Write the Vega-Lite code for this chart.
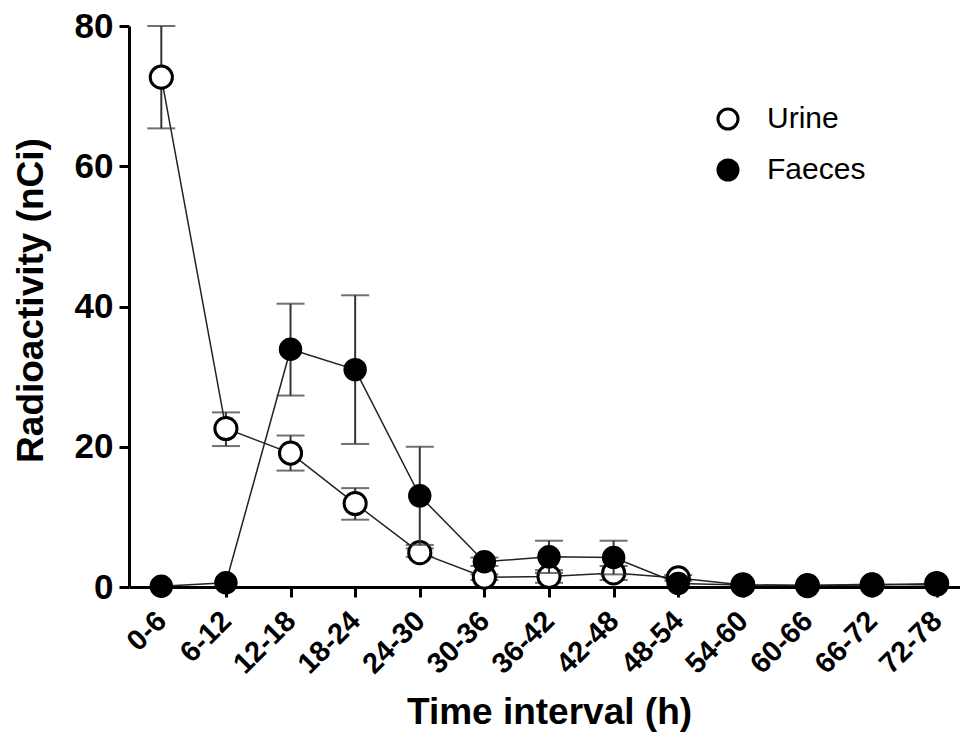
{
  "$schema": "https://vega.github.io/schema/vega-lite/v6.json",
  "autosize": {"type": "none"},
  "padding": {"left": 129, "top": 26, "right": 0, "bottom": 147},
  "width": 840,
  "height": 561,
  "background": "white",
  "config": {
    "view": {"stroke": null},
    "font": "Liberation Sans",
    "axis": {
      "grid": false,
      "domainColor": "black",
      "domainWidth": 3,
      "tickColor": "black",
      "tickWidth": 3,
      "tickSize": 10,
      "labelColor": "black",
      "labelFont": "Liberation Sans",
      "labelFontWeight": "bold",
      "titleColor": "black",
      "titleFont": "Liberation Sans",
      "titleFontWeight": "bold",
      "titleFontSize": 37
    },
    "legend": {
      "padding": 0,
      "labelFont": "Liberation Sans",
      "labelFontSize": 30,
      "labelColor": "black",
      "symbolType": "circle",
      "symbolSize": 400,
      "symbolStrokeColor": "black",
      "symbolStrokeWidth": 3,
      "rowPadding": 19,
      "labelOffset": 24
    }
  },
  "data": {
    "values": [
      {"interval": "0-6", "series": "Urine", "mean": 72.7, "lo": 65.4, "hi": 80.0},
      {"interval": "6-12", "series": "Urine", "mean": 22.6, "lo": 20.1, "hi": 24.9},
      {"interval": "12-18", "series": "Urine", "mean": 19.1, "lo": 16.6, "hi": 21.6},
      {"interval": "18-24", "series": "Urine", "mean": 11.9, "lo": 9.6, "hi": 14.1},
      {"interval": "24-30", "series": "Urine", "mean": 4.9, "lo": 4.3, "hi": 5.5},
      {"interval": "30-36", "series": "Urine", "mean": 1.4, "lo": 1.0, "hi": 1.8},
      {"interval": "36-42", "series": "Urine", "mean": 1.5, "lo": 0.6, "hi": 2.4},
      {"interval": "42-48", "series": "Urine", "mean": 2.0, "lo": 1.0, "hi": 3.0},
      {"interval": "48-54", "series": "Urine", "mean": 1.3, "lo": 0.9, "hi": 1.7},
      {"interval": "54-60", "series": "Urine", "mean": 0.3, "lo": null, "hi": null},
      {"interval": "60-66", "series": "Urine", "mean": 0.2, "lo": null, "hi": null},
      {"interval": "66-72", "series": "Urine", "mean": 0.3, "lo": null, "hi": null},
      {"interval": "72-78", "series": "Urine", "mean": 0.5, "lo": null, "hi": null},
      {"interval": "0-6", "series": "Faeces", "mean": 0.1, "lo": null, "hi": null},
      {"interval": "6-12", "series": "Faeces", "mean": 0.6, "lo": null, "hi": null},
      {"interval": "12-18", "series": "Faeces", "mean": 33.9, "lo": 27.3, "hi": 40.4},
      {"interval": "18-24", "series": "Faeces", "mean": 31.0, "lo": 20.4, "hi": 41.6},
      {"interval": "24-30", "series": "Faeces", "mean": 13.0, "lo": 6.0, "hi": 20.0},
      {"interval": "30-36", "series": "Faeces", "mean": 3.6, "lo": 3.0, "hi": 4.2},
      {"interval": "36-42", "series": "Faeces", "mean": 4.3, "lo": 2.0, "hi": 6.6},
      {"interval": "42-48", "series": "Faeces", "mean": 4.2, "lo": 1.8, "hi": 6.6},
      {"interval": "48-54", "series": "Faeces", "mean": 0.5, "lo": null, "hi": null},
      {"interval": "54-60", "series": "Faeces", "mean": 0.3, "lo": null, "hi": null},
      {"interval": "60-66", "series": "Faeces", "mean": 0.2, "lo": null, "hi": null},
      {"interval": "66-72", "series": "Faeces", "mean": 0.4, "lo": null, "hi": null},
      {"interval": "72-78", "series": "Faeces", "mean": 0.3, "lo": null, "hi": null}
    ]
  },
  "encoding": {
    "x": {
      "field": "interval",
      "type": "ordinal",
      "sort": null,
      "scale": {"type": "point", "padding": 0.5},
      "axis": {
        "title": "Time interval (h)",
        "labelAngle": -45,
        "labelAlign": "right",
        "labelBaseline": "middle",
        "labelFontSize": 29,
        "labelPadding": 19,
        "titleBaseline": "alphabetic",
        "titleY": 136
      }
    },
    "y": {
      "field": "mean",
      "type": "quantitative",
      "scale": {"domain": [0, 80], "nice": false},
      "axis": {
        "title": "Radioactivity (nCi)",
        "values": [0, 20, 40, 60, 80],
        "labelFontSize": 35,
        "labelPadding": 6,
        "titleBaseline": "alphabetic",
        "titleX": -87,
        "titleY": 274
      }
    }
  },
  "layer": [
    {
      "mark": {"type": "line", "color": "#222222", "strokeWidth": 1.5},
      "encoding": {"detail": {"field": "series"}}
    },
    {
      "transform": [{"filter": "datum.series === 'Urine' && datum.hi != null"}],
      "mark": {"type": "rule", "color": "#333333", "strokeWidth": 2},
      "encoding": {"y": {"field": "lo", "type": "quantitative"}, "y2": {"field": "hi"}}
    },
    {
      "transform": [{"filter": "datum.series === 'Urine' && datum.hi != null"}],
      "mark": {"type": "tick", "color": "#333333", "thickness": 2, "size": 28},
      "encoding": {"y": {"field": "lo", "type": "quantitative"}}
    },
    {
      "transform": [{"filter": "datum.series === 'Urine' && datum.hi != null"}],
      "mark": {"type": "tick", "color": "#333333", "thickness": 2, "size": 28},
      "encoding": {"y": {"field": "hi", "type": "quantitative"}}
    },
    {
      "transform": [{"filter": "datum.series === 'Urine'"}],
      "mark": {"type": "point", "shape": "circle", "filled": true, "size": 490, "stroke": "black", "strokeWidth": 3, "opacity": 1},
      "encoding": {
        "fill": {
          "field": "series",
          "type": "nominal",
          "scale": {"domain": ["Urine", "Faeces"], "range": ["white", "black"]},
          "legend": {"title": null, "orient": "none", "legendX": 584, "legendY": 78}
        }
      }
    },
    {
      "transform": [{"filter": "datum.series === 'Faeces' && datum.hi != null"}],
      "mark": {"type": "rule", "color": "#333333", "strokeWidth": 2},
      "encoding": {"y": {"field": "lo", "type": "quantitative"}, "y2": {"field": "hi"}}
    },
    {
      "transform": [{"filter": "datum.series === 'Faeces' && datum.hi != null"}],
      "mark": {"type": "tick", "color": "#333333", "thickness": 2, "size": 28},
      "encoding": {"y": {"field": "lo", "type": "quantitative"}}
    },
    {
      "transform": [{"filter": "datum.series === 'Faeces' && datum.hi != null"}],
      "mark": {"type": "tick", "color": "#333333", "thickness": 2, "size": 28},
      "encoding": {"y": {"field": "hi", "type": "quantitative"}}
    },
    {
      "transform": [{"filter": "datum.series === 'Faeces'"}],
      "mark": {"type": "point", "shape": "circle", "filled": true, "size": 460, "stroke": "black", "strokeWidth": 2, "opacity": 1},
      "encoding": {
        "fill": {"field": "series", "type": "nominal"}
      }
    }
  ]
}
